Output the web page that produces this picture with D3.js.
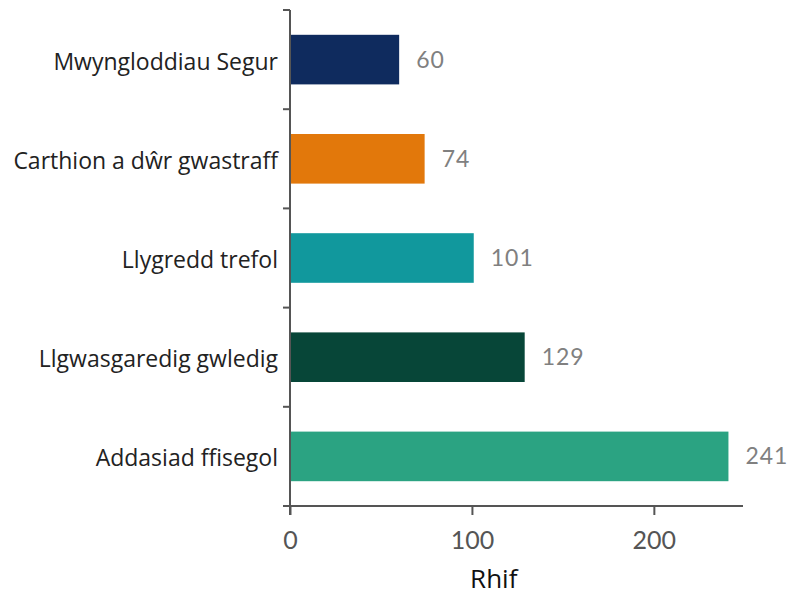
<!DOCTYPE html>
<html>
<head>
<meta charset="utf-8">
<script src="https://cdn.jsdelivr.net/npm/d3@7"></script>
<style>
  body { margin: 0; background: #fff; }
</style>
</head>
<body>
<div id="chart"></div>
<script>
const categories = [
  "Mwyngloddiau Segur",
  "Carthion a dŵr gwastraff",
  "Llygredd trefol",
  "Llgwasgaredig gwledig",
  "Addasiad ffisegol"
];
const values = [60, 74, 101, 129, 241];
const barColors = ["#0f2b5e", "#e2780b", "#11989d", "#074638", "#2ba382"];
const xTicks = [0, 100, 200];
const xTitle = "Rhif";

const width = 802;
const height = 597;
const margin = { top: 10, right: 59, bottom: 91, left: 290 };

const svg = d3.select("#chart")
  .append("svg")
  .attr("width", width)
  .attr("height", height)
  .attr("viewBox", [0, 0, width, height]);

const x = d3.scaleLinear()
  .domain([0, 249])
  .range([margin.left, width - margin.right]);

const y = d3.scaleBand()
  .domain(categories)
  .range([margin.top, height - margin.bottom])
  .paddingInner(0.5)
  .paddingOuter(0.25);

const axisColor = "#555";

// Bars
svg.append("g")
  .selectAll("rect")
  .data(categories)
  .join("rect")
  .attr("x", x(0) + 1)
  .attr("y", d => y(d))
  .attr("width", (d, i) => x(values[i]) - x(0) - 1)
  .attr("height", y.bandwidth())
  .attr("fill", (d, i) => barColors[i]);

// Value labels
svg.append("g")
  .selectAll("text")
  .data(categories)
  .join("text")
  .attr("x", (d, i) => x(values[i]) + 17)
  .attr("y", d => y(d) + y.bandwidth() / 2)
  .attr("dy", "0.35em")
  .attr("fill", "#808080")
  .style("font-family", "Lato, 'Open Sans', sans-serif")
  .style("font-size", "23px")
  .style("letter-spacing", "1px")
  .text((d, i) => values[i]);

// Y axis: vertical line with ticks at band boundaries
const plotH = height - margin.bottom - margin.top;
const bounds = d3.range(categories.length).map(i => margin.top + plotH * i / categories.length);

const yAxis = svg.append("g");
yAxis.append("line")
  .attr("x1", x(0)).attr("x2", x(0))
  .attr("y1", margin.top).attr("y2", height - margin.bottom + 9)
  .attr("stroke", axisColor).attr("stroke-width", 2);
yAxis.selectAll("line.tick")
  .data(bounds)
  .join("line")
  .attr("class", "tick")
  .attr("x1", x(0) - 7).attr("x2", x(0))
  .attr("y1", d => d).attr("y2", d => d)
  .attr("stroke", axisColor).attr("stroke-width", 2);

// Category labels
svg.append("g")
  .selectAll("text")
  .data(categories)
  .join("text")
  .attr("x", x(0) - 12)
  .attr("y", d => y(d) + y.bandwidth() / 2 + 2)
  .attr("dy", "0.35em")
  .attr("text-anchor", "end")
  .attr("fill", "#222")
  .style("font-family", "'Open Sans', sans-serif")
  .style("font-size", "23px")
  .text(d => d);

// X axis
const xAxis = svg.append("g")
  .attr("transform", `translate(0,${height - margin.bottom})`)
  .call(d3.axisBottom(x).tickValues(xTicks).tickSize(9).tickSizeOuter(0).tickPadding(16));

xAxis.select(".domain")
  .attr("d", `M${x(0) - 7},0H${width - margin.right}`)
  .attr("stroke", axisColor)
  .attr("stroke-width", 2);
xAxis.selectAll(".tick line")
  .attr("stroke", axisColor)
  .attr("stroke-width", 2);
xAxis.selectAll(".tick text")
  .attr("fill", "#555")
  .style("font-family", "Lato, 'Open Sans', sans-serif")
  .style("font-size", "25px");

// X title
svg.append("text")
  .attr("x", x(112))
  .attr("y", 588)
  .attr("text-anchor", "middle")
  .attr("fill", "#111")
  .style("font-family", "'Open Sans', sans-serif")
  .style("font-size", "26px")
  .text(xTitle);
</script>
</body>
</html>
